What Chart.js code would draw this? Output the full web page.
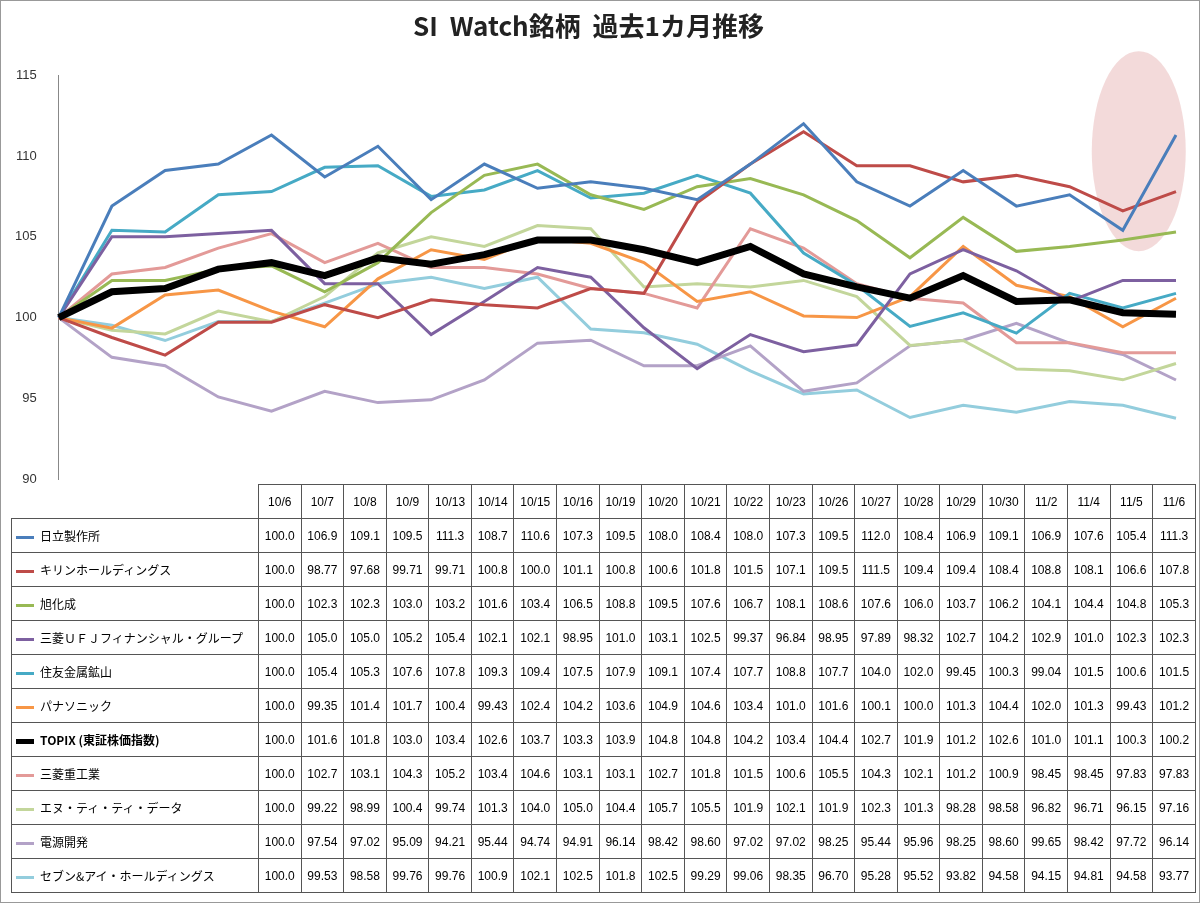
<!DOCTYPE html>
<html><head><meta charset="utf-8">
<script src="https://cdn.jsdelivr.net/npm/chart.js@4.4.0/dist/chart.umd.min.js"></script>
<style>
body{margin:0;background:#fff;font-family:"Noto Sans CJK JP","Noto Sans",sans-serif;}
#wrap{position:absolute;left:0;top:0;width:1198px;height:901px;border:1px solid #999;overflow:hidden;}
#cv{position:absolute;left:0;top:0;width:1200px;height:500px;}
table{position:absolute;left:10px;top:483px;width:1185px;table-layout:fixed;border-collapse:collapse;font-size:12px;font-family:"Liberation Sans",Arial,"Noto Sans CJK JP",sans-serif;}
td{border:1px solid #555;height:34px;padding:0;text-align:center;white-space:nowrap;overflow:hidden;box-sizing:border-box;}
td.lab{text-align:left;padding-left:4px;font-family:"Noto Sans CJK JP",sans-serif;font-size:12px;}
tr.hdr td.empty{border:none;border-bottom:1px solid #555;border-right:1px solid #555;}
.sw{display:inline-block;width:18px;height:3px;vertical-align:middle;margin-right:6px;}
</style></head><body>
<div id="wrap"><canvas id="cv" width="1200" height="500"></canvas><table id="tb"></table></div>
<script>
const categories=["10/6","10/7","10/8","10/9","10/13","10/14","10/15","10/16","10/19","10/20","10/21","10/22","10/23","10/26","10/27","10/28","10/29","10/30","11/2","11/4","11/5","11/6"];
const names=["日立製作所","キリンホールディングス","旭化成","三菱ＵＦＪフィナンシャル・グループ","住友金属鉱山","パナソニック","TOPIX (東証株価指数)","三菱重工業","エヌ・ティ・ティ・データ","電源開発","セブン&アイ・ホールディングス"];
const hitachi=[100.0,106.9,109.1,109.5,111.3,108.7,110.6,107.3,109.5,108.0,108.4,108.0,107.3,109.5,112.0,108.4,106.9,109.1,106.9,107.6,105.4,111.3];
const kirin=[100.0,98.77,97.68,99.71,99.71,100.8,100.0,101.1,100.8,100.6,101.8,101.5,107.1,109.5,111.5,109.4,109.4,108.4,108.8,108.1,106.6,107.8];
const asahi=[100.0,102.3,102.3,103.0,103.2,101.6,103.4,106.5,108.8,109.5,107.6,106.7,108.1,108.6,107.6,106.0,103.7,106.2,104.1,104.4,104.8,105.3];
const mufg=[100.0,105.0,105.0,105.2,105.4,102.1,102.1,98.95,101.0,103.1,102.5,99.37,96.84,98.95,97.89,98.32,102.7,104.2,102.9,101.0,102.3,102.3];
const sumitomo=[100.0,105.4,105.3,107.6,107.8,109.3,109.4,107.5,107.9,109.1,107.4,107.7,108.8,107.7,104.0,102.0,99.45,100.3,99.04,101.5,100.6,101.5];
const panasonic=[100.0,99.35,101.4,101.7,100.4,99.43,102.4,104.2,103.6,104.9,104.6,103.4,101.0,101.6,100.1,100.0,101.3,104.4,102.0,101.3,99.43,101.2];
const topix=[100.0,101.6,101.8,103.0,103.4,102.6,103.7,103.3,103.9,104.8,104.8,104.2,103.4,104.4,102.7,101.9,101.2,102.6,101.0,101.1,100.3,100.2];
const mhi=[100.0,102.7,103.1,104.3,105.2,103.4,104.6,103.1,103.1,102.7,101.8,101.5,100.6,105.5,104.3,102.1,101.2,100.9,98.45,98.45,97.83,97.83];
const nttdata=[100.0,99.22,98.99,100.4,99.74,101.3,104.0,105.0,104.4,105.7,105.5,101.9,102.1,101.9,102.3,101.3,98.28,98.58,96.82,96.71,96.15,97.16];
const jpower=[100.0,97.54,97.02,95.09,94.21,95.44,94.74,94.91,96.14,98.42,98.60,97.02,97.02,98.25,95.44,95.96,98.25,98.60,99.65,98.42,97.72,96.14];
const seven=[100.0,99.53,98.58,99.76,99.76,100.9,102.1,102.5,101.8,102.5,99.29,99.06,98.35,96.70,95.28,95.52,93.82,94.58,94.15,94.81,94.58,93.77];
const yTicks=[90,95,100,105,110,115];
const series=[hitachi,kirin,asahi,mufg,sumitomo,panasonic,topix,mhi,nttdata,jpower,seven];
const colors=["#4a7ebb","#be4b48","#98b954","#7d60a0","#46aac5","#f79646","#000000","#e39a98","#c3d69b","#b3a2c7","#93cddd"];

const tb=document.getElementById('tb');
let h='<colgroup><col style="width:247px">'+categories.map(()=>'<col>').join('')+'</colgroup>';
h+='<tr class="hdr"><td class="lab empty"></td>'+categories.map(c=>'<td>'+c+'</td>').join('')+'</tr>';
series.forEach((s,i)=>{
 h+='<tr><td class="lab"><span class="sw" style="background:'+colors[i]+';'+(i==6?'height:5px;':'')+'"></span>'+(i==6?'<b>'+names[i]+'</b>':names[i])+'</td>'+
 s.map(v=>'<td>'+(v>=100?v.toFixed(1):v.toFixed(2))+'</td>').join('')+'</tr>';
});
tb.innerHTML=h;

const ellipse={id:'ell',beforeDatasetsDraw(c){const x=c.scales.x,y=c.scales.y,ctx=c.ctx;
 const cx=x.getPixelForValue(20.3), cy=y.getPixelForValue(110.3);
 ctx.save();ctx.fillStyle='rgba(220,150,150,0.35)';ctx.beginPath();ctx.ellipse(cx,cy,47,100,0,0,Math.PI*2);ctx.fill();ctx.restore();}};

new Chart(document.getElementById('cv'),{type:'line',
 data:{labels:categories,datasets:series.map((s,i)=>({label:names[i],data:s,borderColor:colors[i],borderWidth:i==6?7:3,pointRadius:0,tension:0,order:i==6?0:1}))},
 options:{responsive:false,animation:false,
  layout:{padding:{left:0,right:25,top:0,bottom:5}},
  plugins:{legend:{display:false},tooltip:{enabled:false},
   title:{display:true,text:'SI  Watch銘柄  過去1カ月推移',font:{size:26,weight:'bold',family:'"Noto Sans CJK JP"'},color:'#222',padding:{top:10,bottom:33}}},
  scales:{
   x:{offset:false,grid:{display:false},border:{display:false},ticks:{display:false}},
   y:{min:90,max:115,afterBuildTicks(a){a.ticks=yTicks.map(v=>({value:v}));},
      grid:{display:false},border:{display:true,color:'#888'},
      ticks:{color:'#333',font:{size:13,family:'"Liberation Sans"'},padding:14}}
  }},
 plugins:[ellipse]});
</script></body></html>
